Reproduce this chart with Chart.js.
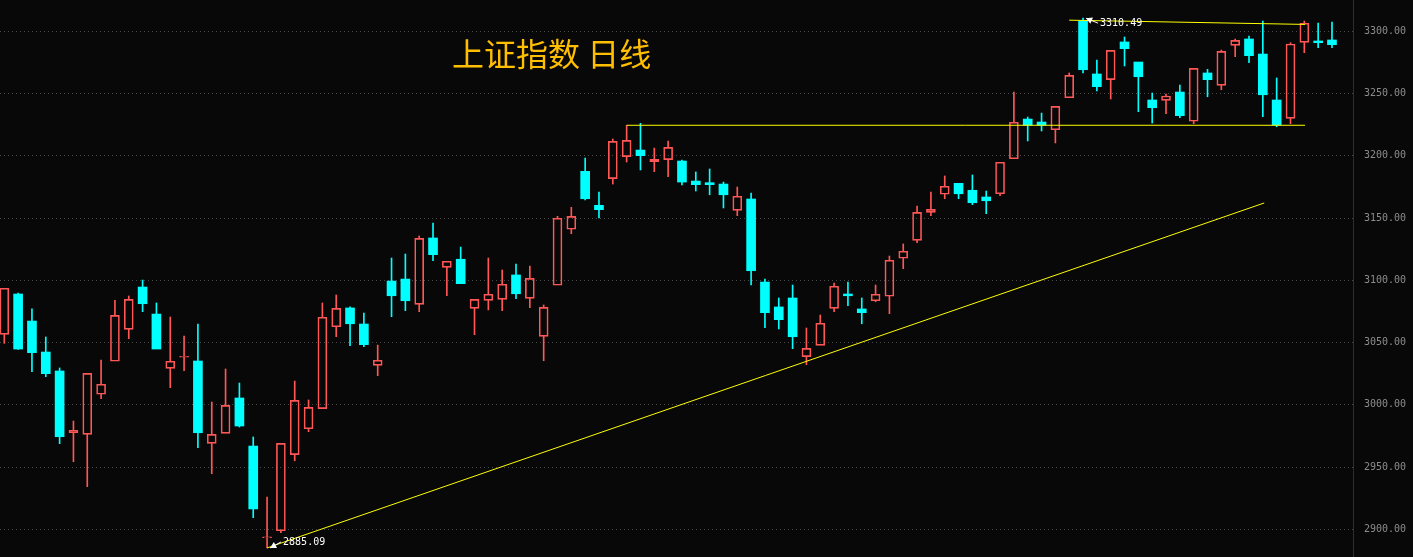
<!DOCTYPE html>
<html>
<head>
<meta charset="utf-8">
<script src="https://cdn.jsdelivr.net/npm/chart.js@4/dist/chart.umd.min.js"></script>
<style>
  html, body { margin: 0; padding: 0; background: #080808; }
  #wrap { width: 1413px; height: 557px; position: relative; }
  canvas { display: block; }
</style>
</head>
<body>
<div id="wrap"><canvas id="c" width="1413" height="557"></canvas></div>
<script>
// ---- data ----
const titleText = '上证指数 日线';
const opens  = [3056.6,3089.0,3067.3,3042.4,3027.2,2977.6,2976.3,3008.5,3035.0,3060.6,
                3094.6,3072.9,3029.3,3038.2,3035.2,2969.1,2977.1,3005.5,2966.9,2893.2,
                2898.9,2960.0,2980.8,2996.9,3062.7,3077.8,3064.9,3031.7,3099.4,3101.0,
                3080.7,3134.0,3110.4,3116.9,3077.5,3083.9,3084.7,3104.3,3085.5,3055.0,
                3096.0,3141.0,3187.5,3160.2,3181.6,3199.3,3204.6,3195.2,3196.9,3195.8,
                3179.7,3178.4,3177.3,3156.2,3165.3,3098.6,3078.6,3085.8,3038.7,3047.8,
                3077.5,3089.0,3077.0,3083.6,3087.2,3117.7,3132.1,3154.6,3169.1,3177.9,
                3172.3,3166.9,3169.5,3197.6,3229.5,3227.1,3220.9,3246.6,3308.2,3265.7,
                3261.1,3291.4,3275.3,3244.8,3244.5,3251.2,3227.7,3266.5,3256.6,3288.7,
                3293.8,3281.7,3244.8,3230.1,3291.1,3292.2,3293.0];
const highs  = [3093.6,3089.5,3077.0,3054.5,3029.6,2987.0,3025.3,3036.0,3083.9,3087.4,
                3100.2,3081.8,3070.5,3055.3,3064.9,3002.3,3028.8,3017.5,2974.2,2926.0,
                2969.1,3019.1,3003.9,3081.8,3088.2,3078.6,3073.7,3048.0,3117.9,3121.1,
                3135.6,3146.0,3115.3,3126.7,3084.7,3117.9,3108.3,3113.1,3111.5,3080.2,
                3151.4,3158.6,3198.2,3170.9,3213.5,3224.5,3226.1,3206.2,3211.9,3196.6,
                3187.0,3189.4,3178.9,3174.9,3170.1,3101.0,3085.8,3096.2,3061.7,3072.1,
                3097.8,3098.6,3085.8,3096.2,3119.5,3129.2,3159.7,3170.9,3183.8,3177.9,
                3184.6,3171.7,3194.8,3251.2,3231.1,3234.3,3239.7,3266.5,3310.49,3276.9,
                3284.7,3295.4,3275.3,3250.4,3249.6,3256.8,3270.2,3269.4,3284.9,3293.8,
                3296.2,3308.2,3262.5,3290.8,3308.2,3306.6,3307.4];
const lows   = [3049.4,3044.5,3026.6,3022.6,2968.8,2954.3,2934.3,3004.9,3035.0,3053.1,
                3074.8,3044.8,3013.8,3027.4,2965.6,2944.7,2977.1,2982.2,2909.4,2885.09,
                2897.3,2955.1,2978.4,2996.9,3054.7,3047.5,3046.7,3023.4,3070.8,3075.6,
                3074.8,3115.7,3087.6,3097.3,3056.3,3076.2,3075.6,3085.2,3078.0,3035.4,
                3096.0,3137.4,3164.5,3150.0,3177.3,3195.0,3188.6,3187.2,3183.2,3176.5,
                3171.7,3168.7,3158.1,3151.9,3096.2,3061.9,3060.9,3045.1,3032.2,3047.8,
                3074.8,3079.6,3065.1,3082.8,3073.2,3109.3,3130.2,3151.9,3165.5,3165.5,
                3160.7,3153.5,3167.9,3197.6,3211.9,3219.9,3210.3,3246.6,3266.5,3252.0,
                3245.6,3272.1,3235.4,3226.3,3233.8,3230.6,3225.8,3247.4,3253.1,3279.6,
                3274.7,3231.4,3223.3,3225.8,3282.8,3286.8,3286.8];
const closes = [3093.6,3044.8,3041.9,3025.0,2974.4,2979.5,3025.3,3016.5,3071.9,3084.7,
                3081.2,3044.8,3035.0,3039.0,2977.6,2976.3,2999.6,2983.0,2916.4,2894.0,
                2969.1,3003.6,2998.0,3070.3,3077.5,3065.1,3048.3,3035.8,3087.6,3083.6,
                3133.7,3120.6,3115.3,3097.3,3084.7,3088.8,3096.8,3089.2,3101.6,3078.3,
                3149.8,3151.4,3165.5,3156.7,3211.6,3212.4,3200.1,3197.2,3206.8,3178.9,
                3176.8,3176.8,3168.7,3167.5,3107.7,3074.0,3068.4,3054.7,3045.4,3065.5,
                3095.2,3087.6,3074.0,3088.8,3116.1,3123.3,3154.6,3157.0,3175.5,3169.5,
                3162.3,3163.9,3194.8,3226.9,3224.5,3224.5,3239.7,3264.6,3269.1,3255.5,
                3284.7,3286.0,3263.5,3238.6,3248.0,3232.2,3270.2,3261.1,3283.9,3292.7,
                3280.4,3249.0,3224.7,3289.8,3306.4,3290.8,3289.2];
const yTickValues = [2900, 2950, 3000, 3050, 3100, 3150, 3200, 3250, 3300];
// drawn lines (index, value)
const trendX   = [19, 91.1];
const trendY   = [2885.09, 3162.1];
const supportX = [45, 94.05];
const supportY = [3224.5, 3224.5];
const resistX  = [77, 94.05];
const resistY  = [3308.9, 3305.5];
// marked extremes
const markIndex = [19, 78];
const markText  = ['2885.09', '3310.49'];

// ---- build datasets ----
const UP = '#ff5656', DOWN = '#00ffff', LINE = '#ffff00';
const days = opens.map((_, i) => i);
const upBody = [], downBody = [], upWick = [], downWick = [];
days.forEach(i => {
  const o = opens[i], c = closes[i], top = Math.max(o, c), bot = Math.min(o, c);
  const isUp = c > o || (c === o && i === 19);
  const body = isUp ? upBody : downBody;
  const wick = isUp ? upWick : downWick;
  body.push({x: i, y: [o, c]});
  if (highs[i] > top) wick.push({x: i, y: [top, highs[i]]});
  if (lows[i] < bot) wick.push({x: i, y: [lows[i], bot]});
});
const toPts = (xs, ys) => xs.map((x, k) => ({x, y: ys[k]}));

const barCommon = { grouped: false, borderSkipped: false, minBarLength: 1 };

const overlay = {
  id: 'overlay',
  afterDatasetsDraw(chart) {
    const {ctx, scales: {x, y}} = chart;
    ctx.save();
    ctx.font = '32px "Noto Sans CJK SC"';
    ctx.fillStyle = '#ffbf00';
    ctx.textBaseline = 'alphabetic';
    ctx.textAlign = 'left';
    ctx.fillText(titleText, 452, 66);

    ctx.font = '10px "DejaVu Sans Mono"';
    ctx.fillStyle = '#ffffff';
    ctx.strokeStyle = '#ffffff';
    ctx.lineWidth = 1;
    ctx.textBaseline = 'middle';
    markIndex.forEach((idx, k) => {
      const isLow = k === 0;
      const px = x.getPixelForValue(idx);
      const py = y.getPixelForValue(isLow ? lows[idx] : highs[idx]);
      const tx = px + (isLow ? 16 : 17);
      const ty = py + (isLow ? -6 : 5);
      const ax = px + 3, ay = py;
      ctx.beginPath();
      ctx.moveTo(ax, ay);
      ctx.lineTo(tx - 2, ty);
      ctx.stroke();
      const ang = Math.atan2(ty - ay, tx - 2 - ax);
      ctx.beginPath();
      ctx.moveTo(ax, ay);
      ctx.lineTo(ax + 7 * Math.cos(ang - 0.5), ay + 7 * Math.sin(ang - 0.5));
      ctx.lineTo(ax + 7 * Math.cos(ang + 0.5), ay + 7 * Math.sin(ang + 0.5));
      ctx.closePath();
      ctx.fill();
      ctx.fillText(markText[k], tx, ty);
    });
    ctx.restore();
  }
};

new Chart(document.getElementById('c'), {
  type: 'bar',
  data: {
    datasets: [
      { type: 'line', data: toPts(trendX, trendY), borderColor: LINE, borderWidth: 1, pointRadius: 0, pointHoverRadius: 0, pointHitRadius: 0, fill: false, order: 0 },
      { type: 'line', data: toPts(supportX, supportY), borderColor: LINE, borderWidth: 1, pointRadius: 0, pointHoverRadius: 0, pointHitRadius: 0, fill: false, order: 0 },
      { type: 'line', data: toPts(resistX, resistY), borderColor: LINE, borderWidth: 1, pointRadius: 0, pointHoverRadius: 0, pointHitRadius: 0, fill: false, order: 0 },
      Object.assign({ data: upWick, backgroundColor: UP, borderWidth: 0, barThickness: 1, order: 2 }, barCommon),
      Object.assign({ data: downWick, backgroundColor: DOWN, borderWidth: 0, barThickness: 1, order: 2 }, barCommon),
      Object.assign({ data: upBody, backgroundColor: 'rgba(0,0,0,0)', borderColor: UP, borderWidth: 1, barThickness: 9, order: 1 }, barCommon),
      Object.assign({ data: downBody, backgroundColor: DOWN, borderWidth: 0, barThickness: 9, order: 1 }, barCommon)
    ]
  },
  options: {
    responsive: false,
    animation: false,
    devicePixelRatio: 1,
    layout: { padding: 0, autoPadding: false },
    plugins: { legend: { display: false }, tooltip: { enabled: false }, title: { display: false } },
    scales: {
      x: {
        type: 'linear', min: -0.31, max: 97.52, offset: false, display: false,
        grid: { display: false }
      },
      y: {
        position: 'right', min: 2877.8, max: 3325.1,
        afterBuildTicks: (s) => { s.ticks = yTickValues.map(v => ({value: v})); },
        afterFit: (s) => { s.width = 60; s.paddingTop = 0; s.paddingBottom = 0; },
        grid: { color: '#4a4a4a', lineWidth: 1, drawTicks: false, tickLength: 0 },
        border: { display: true, color: '#2e2e2e', width: 1, dash: [1, 3] },
        ticks: {
          color: '#8c8c8c', padding: 11, align: 'center', crossAlign: 'near',
          font: { family: '"DejaVu Sans Mono"', size: 10 },
          callback: (v) => Number(v).toFixed(2)
        }
      }
    }
  },
  plugins: [overlay]
});
</script>
</body>
</html>
